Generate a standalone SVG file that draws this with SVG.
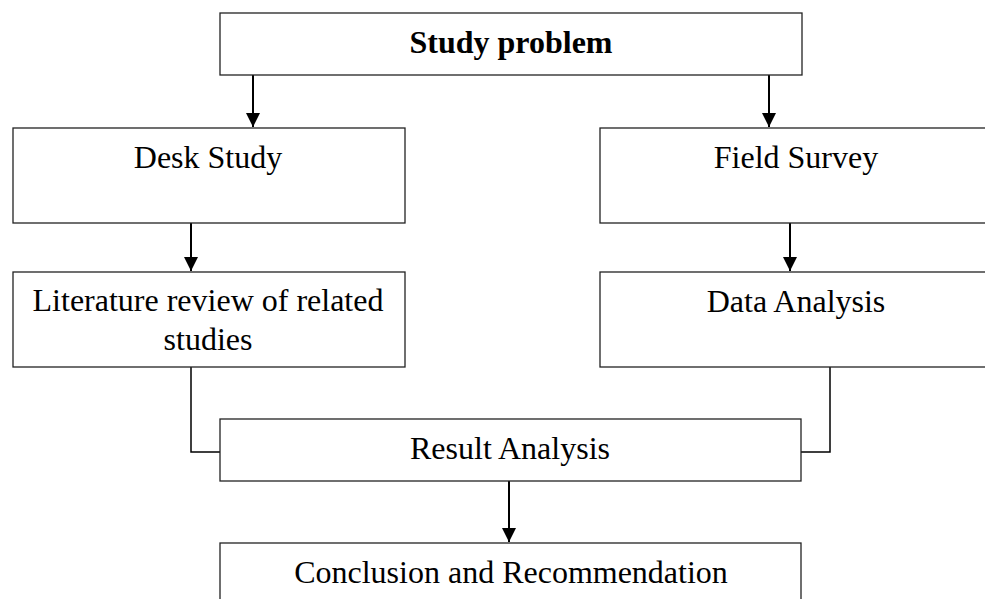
<svg xmlns="http://www.w3.org/2000/svg" width="985" height="599" viewBox="0 0 985 599">
<style>
.box{fill:#fff;stroke:#222;stroke-width:1.3}
.t{font-family:"Liberation Serif","Times New Roman",serif;font-size:32px;fill:#000;text-anchor:middle}
.b{font-weight:bold}
.c{fill:none;stroke:#000;stroke-width:2}
.e{fill:none;stroke:#000;stroke-width:1.5}
</style>
<defs>
<marker id="ah" markerUnits="userSpaceOnUse" markerWidth="16" markerHeight="16" refX="14" refY="7" orient="auto">
<path d="M0,0 L14,7 L0,14 Z" fill="#000"/>
</marker>
</defs>
<g id="connectors">
<path class="c" d="M253,75 V127" marker-end="url(#ah)"/>
<path class="c" d="M769,75 V127" marker-end="url(#ah)"/>
<path class="c" d="M191,223 V271" marker-end="url(#ah)"/>
<path class="c" d="M790,223 V271" marker-end="url(#ah)"/>
<path class="e" d="M191,367 V452 H220"/>
<path class="e" d="M830,367 V452 H801"/>
<path class="c" d="M509,481 V542" marker-end="url(#ah)"/>
</g>
<g id="study-problem">
<rect class="box" x="220" y="13" width="582" height="62"/>
<text class="t b" x="511" y="53">Study problem</text>
</g>
<g id="desk-study">
<rect class="box" x="13" y="128" width="392" height="95"/>
<text class="t" x="208" y="168">Desk Study</text>
</g>
<g id="field-survey">
<rect class="box" x="600" y="128" width="392" height="95"/>
<text class="t" x="796" y="168">Field Survey</text>
</g>
<g id="literature-review">
<rect class="box" x="13" y="272" width="392" height="95"/>
<text class="t" x="208" y="311">Literature review of related</text>
<text class="t" x="208" y="350">studies</text>
</g>
<g id="data-analysis">
<rect class="box" x="600" y="272" width="392" height="95"/>
<text class="t" x="796" y="312">Data Analysis</text>
</g>
<g id="result-analysis">
<rect class="box" x="220" y="419" width="581" height="62"/>
<text class="t" x="510" y="459">Result Analysis</text>
</g>
<g id="conclusion">
<rect class="box" x="220" y="543" width="581" height="80"/>
<text class="t" x="511" y="583">Conclusion and Recommendation</text>
</g>
</svg>
